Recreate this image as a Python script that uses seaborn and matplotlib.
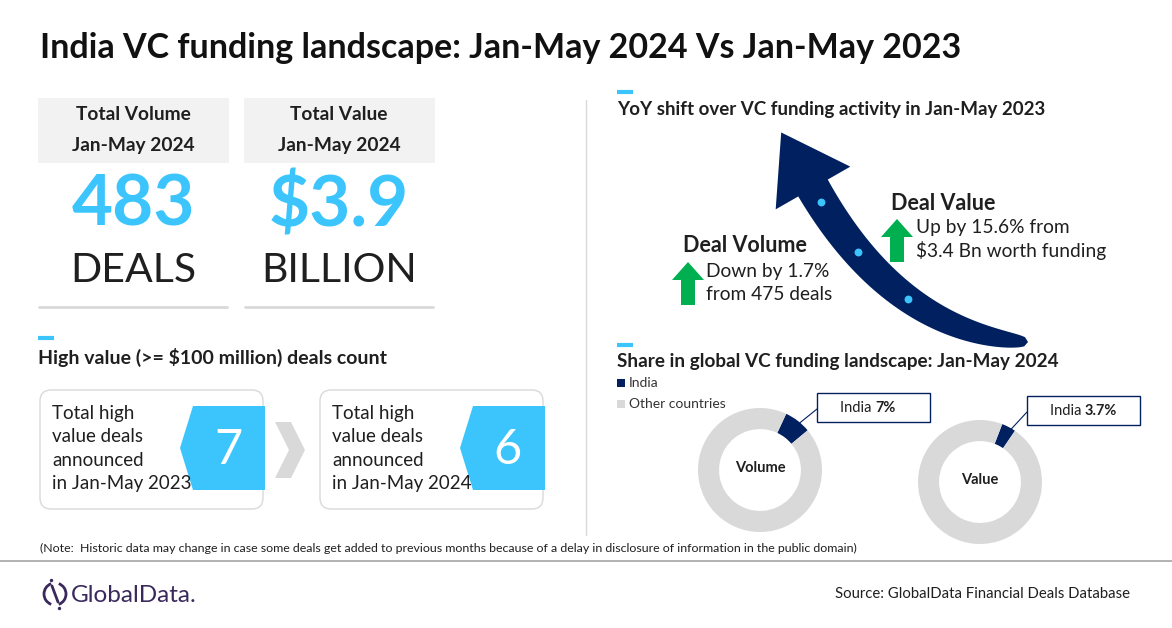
import numpy as np
import matplotlib
matplotlib.use("Agg")
import matplotlib.pyplot as plt
from matplotlib.patches import FancyBboxPatch, Polygon, Rectangle, Arc
import seaborn as sns

# ---- data ----
title = "India VC funding landscape: Jan-May 2024 Vs Jan-May 2023"
kpi_titles = ["Total Volume", "Total Value"]
kpi_period = "Jan-May 2024"
kpi_values = [r"483", r"\$3.9"]
kpi_units = ["DEALS", "BILLION"]

hv_heading = r"High value (>= \$100 million) deals count"
hv_periods = ["Jan-May 2023", "Jan-May 2024"]
hv_counts = [7, 6]

yoy_heading = "YoY shift over VC funding activity in Jan-May 2023"
yoy_names = ["Deal Volume", "Deal Value"]
yoy_texts = [["Down by 1.7%", "from 475 deals"], ["Up by 15.6% from", "\\$3.4 Bn worth funding"]]

share_heading = "Share in global VC funding landscape: Jan-May 2024"
share_labels = ["India", "Other countries"]
share_metrics = ["Volume", "Value"]
india_share = [7.0, 3.7]
share_start = [65, 69]

note = ("(Note:  Historic data may change in case some deals get added to previous months "
        "because of a delay in disclosure of information in the public domain)")
source = "Source: GlobalData Financial Deals Database"

# ---- style ----
sns.set_theme(style="white")
plt.rcParams["font.family"] = ["Lato", "DejaVu Sans"]
CYAN = "#3CC5FD"
NAVY = "#002060"
GREEN = "#00B050"
LGREY = "#F2F2F2"
MGREY = "#D9D9D9"
TXT = "#1F1F1F"

W, H = 1172, 628
fig = plt.figure(figsize=(W / 100, H / 100), dpi=100)
ax = fig.add_axes([0, 0, 1, 1])
ax.set_xlim(0, W)
ax.set_ylim(H, 0)
ax.axis("off")

ax.text(40, 48, title, fontsize=24.5, fontweight="bold", color="#111111", va="center")

# ---- KPI cards ----
for i, (t, v, u) in enumerate(zip(kpi_titles, kpi_values, kpi_units)):
    x0 = 38 + i * 206
    cx = x0 + 95
    ax.add_patch(Rectangle((x0, 98), 191, 65, color=LGREY, lw=0))
    ax.text(cx, 114, t, fontsize=13.8, fontweight="bold", color=TXT, ha="center", va="center")
    ax.text(cx, 146, kpi_period, fontsize=13.8, fontweight="bold", color=TXT, ha="center", va="center")
    ax.text(cx, 205, v, fontsize=51, fontweight="bold", color=CYAN, ha="center", va="center")
    ax.text(cx, 270, u, fontsize=29.5, color=TXT, ha="center", va="center")
    ax.plot([x0 + 1, x0 + 189], [307, 307], color=MGREY, lw=2)

# section dashes and divider
for dx, dy in [(38, 338), (617, 92), (617, 345)]:
    ax.plot([dx, dx + 16], [dy, dy], color=CYAN, lw=3, solid_capstyle="butt")
ax.plot([586, 586], [100, 535], color=MGREY, lw=1)

# ---- high value deals ----
ax.text(38, 357, hv_heading, fontsize=14, fontweight="bold", color=TXT, va="center")
for i, (p, c) in enumerate(zip(hv_periods, hv_counts)):
    x0 = 40 + i * 280
    x1 = x0 + 223
    ax.add_patch(FancyBboxPatch((x0, 390), 223, 119,
                                boxstyle="round,pad=0,rounding_size=11",
                                fc="white", ec=MGREY, lw=1))
    ax.add_patch(Polygon([(x1 - 70, 406), (x1 + 2, 406), (x1 + 2, 490),
                          (x1 - 70, 490), (x1 - 83, 448)], closed=True, color=CYAN, lw=0))
    ax.text(x1 - 35, 450, str(c), fontsize=35, color="white", ha="center", va="center")
    for k, line in enumerate(["Total high", "value deals", "announced", "in " + p]):
        ax.text(x0 + 12, 414 + 23 * k, line, fontsize=13.5, color=TXT, va="center")
ax.add_patch(Polygon([(275, 422), (291, 422), (305, 450), (291, 478), (275, 478), (289, 450)],
                     closed=True, color=MGREY, lw=0))

# ---- YoY swoosh arrow ----
ax.text(617, 110, yoy_heading, fontsize=13.5, fontweight="bold", color=TXT, va="center")
p0, p1, p2 = np.array([1028, 342]), np.array([896, 333]), np.array([813, 188])
t = np.linspace(0, 1, 80)[:, None]
centre = (1 - t) ** 2 * p0 + 2 * (1 - t) * t * p1 + t ** 2 * p2
tang = 2 * (1 - t) * (p1 - p0) + 2 * t * (p2 - p1)
tang = tang / np.linalg.norm(tang, axis=1, keepdims=True)
norm = np.column_stack([-tang[:, 1], tang[:, 0]])
half = 17 * t[:, 0] ** 0.3
left = centre + norm * half[:, None]
right = centre - norm * half[:, None]
d = tang[-1]
n = norm[-1]
head = [p2 + n * 43, p2 + d * 64, p2 - n * 43]
shape = np.vstack([left, head, right[::-1]])
ax.add_patch(Polygon(shape, closed=True, color=NAVY, lw=0))
for tt in [0.5, 0.75, 0.95]:
    pt = (1 - tt) ** 2 * p0 + 2 * (1 - tt) * tt * p1 + tt ** 2 * p2
    ax.scatter(pt[0], pt[1], s=32, color=CYAN, zorder=5, lw=0)


def up_arrow(cx, top, bottom):
    ax.add_patch(Polygon([(cx, top), (cx + 16, top + 18), (cx + 7, top + 18), (cx + 7, bottom),
                          (cx - 7, bottom), (cx - 7, top + 18), (cx - 16, top + 18)],
                         closed=True, color=GREEN, lw=0))


yoy_pos = [(683, 246, 688, 262, 305, 706, 272), (891, 203, 897, 219, 262, 916, 227)]
for name, lines, (nx, ny, gx, gt, gb, tx, ty) in zip(yoy_names, yoy_texts, yoy_pos):
    ax.text(nx, ny, name, fontsize=15.5, fontweight="bold", color=TXT, va="center")
    up_arrow(gx, gt, gb)
    for k, line in enumerate(lines):
        ax.text(tx, ty + 23 * k, line, fontsize=13.8, color=TXT, va="center")

# ---- share donuts ----
ax.text(617, 362, share_heading, fontsize=13.6, fontweight="bold", color=TXT, va="center")
for i, (lab, col) in enumerate(zip(share_labels, [NAVY, MGREY])):
    ax.add_patch(Rectangle((617, 379 + i * 21), 8, 8, color=col, lw=0))
    ax.text(629, 383 + i * 21, lab, fontsize=10, color="#333333", va="center")

centres = [(760, 470), (980, 482)]
boxes = [(817, 393), (1027, 396)]
R = 62
for (cx, cy), (bx, by), metric, share, st in zip(centres, boxes, share_metrics, india_share, share_start):
    dax = fig.add_axes([(cx - R) / W, 1 - (cy + R) / H, 2 * R / W, 2 * R / H])
    dax.pie([share, 100 - share], colors=[NAVY, MGREY], startangle=st, counterclock=False,
            radius=1, wedgeprops=dict(width=0.34, lw=0))
    dax.set_xlim(-1, 1)
    dax.set_ylim(-1, 1)
    dax.axis("off")
    ax.text(cx, cy - 2, metric, fontsize=10.5, fontweight="bold", color=TXT, ha="center", va="center")
    mid = np.deg2rad(st - share * 3.6 / 2)
    sx, sy = cx + (R - 12) * np.cos(mid), cy - (R - 12) * np.sin(mid)
    ax.plot([sx, bx], [sy, by + 16], color=NAVY, lw=0.8)
    ax.add_patch(Rectangle((bx, by), 113, 29, fc="white", ec=NAVY, lw=1))
    ax.text(bx + 58, by + 15, "India ", fontsize=10.5, color=TXT, ha="right", va="center")
    ax.text(bx + 58, by + 15, f"{share:g}%", fontsize=10.5, fontweight="bold", color=TXT,
            ha="left", va="center")

# ---- footer ----
ax.text(40, 548, note, fontsize=8.9, color=TXT, va="center")
ax.plot([0, W], [561, 561], color="#A6A6A6", lw=1.2)
ax.add_patch(Arc((55, 594), 22, 22, theta1=110, theta2=250, color="#3A2A5C", lw=2))
ax.add_patch(Arc((55, 594), 22, 22, theta1=290, theta2=70, color="#3A2A5C", lw=2))
ax.plot([52, 58], [586, 602], color="#3A2A5C", lw=2)
ax.scatter([51, 59], [580, 608], s=6, color="#3A2A5C", lw=0)
ax.text(71, 595, "GlobalData.", fontsize=17.5, color="#3A2A5C", va="center")
ax.text(1130, 594, source, fontsize=10.7, color=TXT, ha="right", va="center")

fig.savefig("out.png", dpi=100)
